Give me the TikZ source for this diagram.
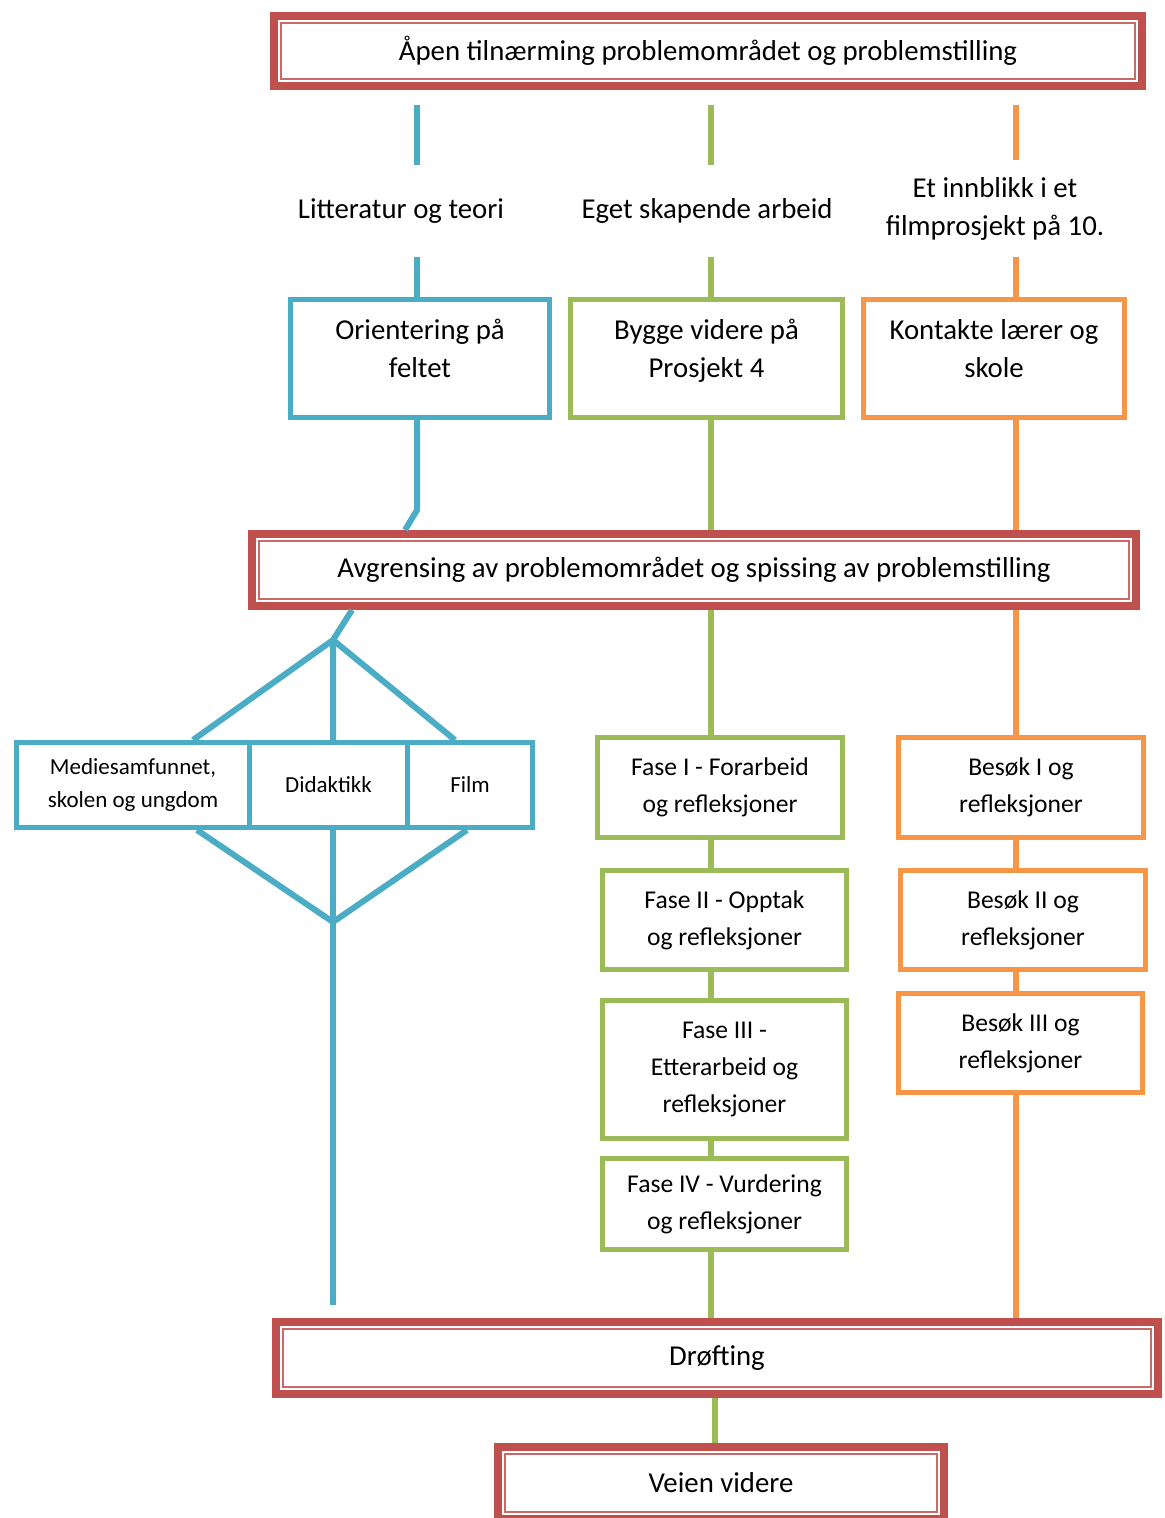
\documentclass[tikz,border=0pt]{standalone}
\usepackage{fontspec}
\setmainfont{Carlito}
\usepackage{tikz}
\definecolor{framered}{HTML}{C0504D}
\definecolor{theoryblue}{HTML}{4BACC6}
\definecolor{workgreen}{HTML}{9BBB59}
\definecolor{schoolorange}{HTML}{F79646}
\newcommand{\bigtext}{\fontsize{14.4}{19}\selectfont}
\newcommand{\smalltext}{\fontsize{12.8}{18.5}\selectfont}
\newcommand{\tinytext}{\fontsize{11.5}{16.5}\selectfont}
\newcommand{\innerframe}[1]{\draw[framered!85, line width=1pt] ([shift={(5.5pt,-5.5pt)}]#1.north west) rectangle ([shift={(-5.5pt,5.5pt)}]#1.south east);}
\tikzstyle{frame} = [draw=framered, line width=4pt, align=center, font=\bigtext]
\tikzstyle{box} = [draw, line width=2.5pt, align=center, inner sep=2pt, font=\smalltext]
\tikzstyle{bluebox} = [box, draw=theoryblue]
\tikzstyle{greenbox} = [box, draw=workgreen]
\tikzstyle{orangebox} = [box, draw=schoolorange]
\tikzstyle{toptext} = [font=\bigtext, text height=29pt, text depth=9.5pt]
\tikzstyle{stream} = [align=center, font=\bigtext, inner sep=0pt, minimum height=46pt]
\tikzstyle{blueline} = [theoryblue, line width=3pt]
\tikzstyle{greenline} = [workgreen, line width=3pt]
\tikzstyle{orangeline} = [schoolorange, line width=3pt]

\begin{document}
\begin{tikzpicture}[x=0.5pt, y=-0.5pt]
	\useasboundingbox (0,0) rectangle (1164,1518);
	
	\node[frame, minimum width=434pt, minimum height=35pt](top) at (708, 51){Åpen tilnærming problemområdet og problemstilling};
	\node[frame, minimum width=442pt, minimum height=36pt](avgr) at (694, 570){Avgrensing av problemområdet og spissing av problemstilling};
	\node[frame, minimum width=441pt, minimum height=36pt](drofting) at (717, 1358){Drøfting};
	\node[frame, minimum width=223pt, minimum height=36pt](veien) at (721, 1483){Veien videre};
	\innerframe{top}
	\innerframe{avgr}
	\innerframe{drofting}
	\innerframe{veien}
	
	\node[stream](lit) at (401, 211){Litteratur og teori};
	\node[stream](eget) at (707, 211){Eget skapende arbeid};
	\node[stream, minimum height=48.5pt](innblikk) at (995, 208.5){Et innblikk i et\\filmprosjekt på 10.};
	
	\node[bluebox, toptext, minimum width=129.5pt, minimum height=59pt](orient) at (420, 358.5){Orientering på\\feltet};
	\node[greenbox, toptext, minimum width=136pt, minimum height=59pt](bygge) at (706.5, 358.5){Bygge videre på\\Prosjekt 4};
	\node[orangebox, toptext, minimum width=130.5pt, minimum height=59pt](kontakt) at (994, 358.5){Kontakte lærer og\\skole};
	
	\node[bluebox, font=\tinytext, minimum width=116.5pt, minimum height=42.5pt](medie) at (133, 785){Mediesamfunnet,\\skolen og ungdom};
	\node[bluebox, font=\tinytext, minimum width=79pt, minimum height=42.5pt](didak) at (328.5, 785){Didaktikk};
	\node[bluebox, font=\tinytext, minimum width=62.5pt, minimum height=42.5pt](film) at (470, 785){Film};
	
	\node[greenbox, minimum width=122.5pt, minimum height=50pt](fase1) at (720, 787.5){Fase I - Forarbeid\\og refleksjoner};
	\node[greenbox, minimum width=122pt, minimum height=49.5pt](fase2) at (724.5, 920){Fase II - Opptak\\og refleksjoner};
	\node[greenbox, minimum width=122pt, minimum height=69pt](fase3) at (724.5, 1069.5){Fase III -\\Etterarbeid og\\refleksjoner};
	\node[greenbox, minimum width=122pt, minimum height=45.5pt](fase4) at (724.5, 1204){Fase IV - Vurdering\\og refleksjoner};
	
	\node[orangebox, minimum width=122.5pt, minimum height=50pt](besok1) at (1021, 787.5){Besøk I og\\refleksjoner};
	\node[orangebox, minimum width=122.5pt, minimum height=49.5pt](besok2) at (1023, 920){Besøk II og\\refleksjoner};
	\node[orangebox, minimum width=122pt, minimum height=49.5pt](besok3) at (1020.5, 1043){Besøk III og\\refleksjoner};
	
	\coordinate(tb) at (417, 105);
	\coordinate(tg) at (711, 105);
	\coordinate(to) at (1016, 105);
	\coordinate(bend) at (417, 510);
	\coordinate(fork) at (333, 640);
	\coordinate(join) at (333, 922);
	\coordinate(tail) at (333, 1305);
	
	\draw[blueline](tb) -- (tb |- lit.north);
	\draw[blueline](tb |- lit.south) -- (tb |- orient.north);
	\draw[blueline](tb |- orient.south) -- (bend) -- (405,0 |- avgr.north);
	\draw[blueline](352,0 |- avgr.south) -- (fork) -- (fork |- didak.north);
	\draw[blueline](193,0 |- medie.north) -- (fork) -- (455,0 |- film.north);
	\draw[blueline](197,0 |- medie.south) -- (join) -- (467,0 |- film.south);
	\draw[blueline](join |- didak.south) -- (tail);
	
	\draw[greenline](tg) -- (tg |- eget.north);
	\draw[greenline](tg |- eget.south) -- (tg |- bygge.north);
	\draw[greenline](tg |- bygge.south) -- (tg |- avgr.north);
	\draw[greenline](tg |- avgr.south) -- (tg |- fase1.north);
	\draw[greenline](tg |- fase1.south) -- (tg |- fase2.north);
	\draw[greenline](tg |- fase2.south) -- (tg |- fase3.north);
	\draw[greenline](tg |- fase3.south) -- (tg |- fase4.north);
	\draw[greenline](tg |- fase4.south) -- (tg |- drofting.north);
	\draw[greenline](715,0 |- drofting.south) -- (715,0 |- veien.north);
	
	\draw[orangeline](to) -- (to |- innblikk.north);
	\draw[orangeline](to |- innblikk.south) -- (to |- kontakt.north);
	\draw[orangeline](to |- kontakt.south) -- (to |- avgr.north);
	\draw[orangeline](to |- avgr.south) -- (to |- besok1.north);
	\draw[orangeline](to |- besok1.south) -- (to |- besok2.north);
	\draw[orangeline](to |- besok2.south) -- (to |- besok3.north);
	\draw[orangeline](to |- besok3.south) -- (to |- drofting.north);
\end{tikzpicture}
\end{document}
